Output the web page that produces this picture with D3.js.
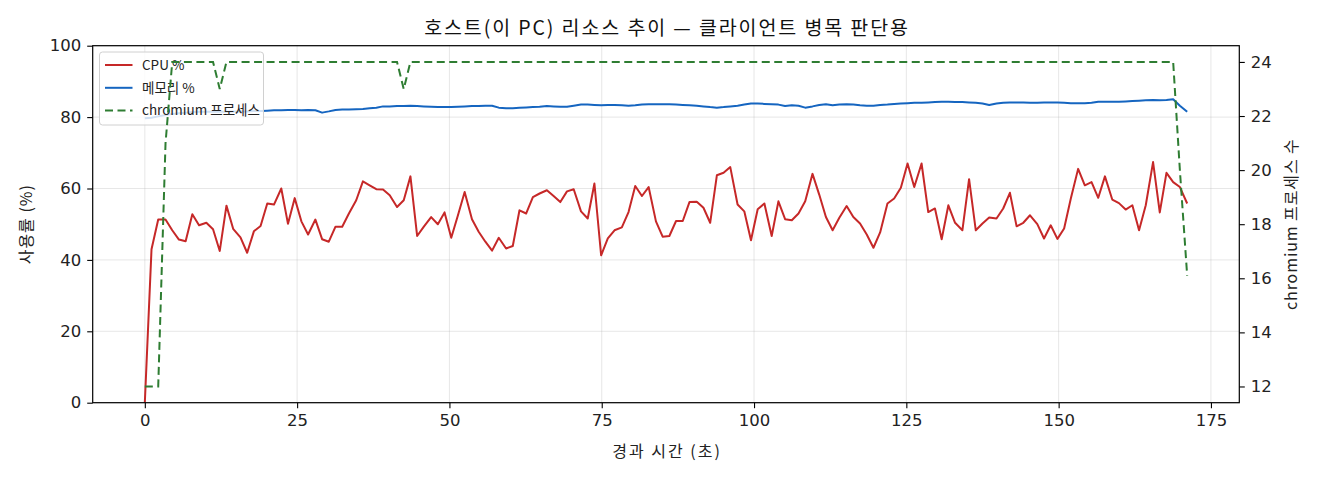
<!DOCTYPE html>
<html>
<head>
<meta charset="utf-8">
<script src="https://cdn.jsdelivr.net/npm/d3@7"></script>
<style>
  body { margin: 0; background: #fff; }
  svg { display: block; font-family: "Noto Sans CJK KR", "Noto Sans", sans-serif; }
</style>
</head>
<body>
<svg id="chart" width="1320" height="480"></svg>
<script>
// elapsed seconds for each sample
const elapsed = [
  0, 1.1, 2.2, 3.4, 4.5, 5.6, 6.7, 7.8, 8.9, 10.1, 11.2, 12.3, 13.4, 14.5, 15.7, 16.8, 17.9, 19.0, 20.1, 21.2,
  22.4, 23.5, 24.6, 25.7, 26.8, 28.0, 29.1, 30.2, 31.3, 32.4, 33.5, 34.7, 35.8, 36.9, 38.0, 39.1, 40.2, 41.4, 42.5, 43.6,
  44.7, 45.8, 47.0, 48.1, 49.2, 50.3, 51.4, 52.5, 53.7, 54.8, 55.9, 57.0, 58.1, 59.3, 60.4, 61.5, 62.6, 63.7, 64.8, 66.0,
  67.1, 68.2, 69.3, 70.4, 71.6, 72.7, 73.8, 74.9, 76.0, 77.1, 78.3, 79.4, 80.5, 81.6, 82.7, 83.9, 85.0, 86.1, 87.2, 88.3,
  89.4, 90.6, 91.7, 92.8, 93.9, 95.0, 96.1, 97.3, 98.4, 99.5, 100.6, 101.7, 102.9, 104.0, 105.1, 106.2, 107.3, 108.4, 109.6, 110.7,
  111.8, 112.9, 114.0, 115.2, 116.3, 117.4, 118.5, 119.6, 120.7, 121.9, 123.0, 124.1, 125.2, 126.3, 127.5, 128.6, 129.7, 130.8, 131.9, 133.0,
  134.2, 135.3, 136.4, 137.5, 138.6, 139.8, 140.9, 142.0, 143.1, 144.2, 145.3, 146.5, 147.6, 148.7, 149.8, 150.9, 152.0, 153.2, 154.3, 155.4,
  156.5, 157.6, 158.8, 159.9, 161.0, 162.1, 163.2, 164.3, 165.5, 166.6, 167.7, 168.8, 169.9, 171.1
];

const cpuPct = [
  0, 43, 51.3, 51.3, 48.3, 45.7, 45.2, 52.8, 49.7, 50.4, 48.6, 42.5, 55.2, 48.7, 46.3, 42, 48, 49.5, 55.8, 55.5,
  60, 50.1, 57.3, 50.8, 47.1, 51.3, 45.8, 45.1, 49.3, 49.3, 53, 56.7, 62, 60.9, 59.8, 59.7, 58.1, 54.8, 56.7, 63.4,
  46.7, 49.3, 52, 50, 53.3, 46.2, 52.5, 59, 51.4, 47.9, 45.1, 42.6, 46.2, 43.2, 43.9, 53.9, 53, 57.6, 58.6, 59.5,
  57.9, 56.2, 59.2, 59.8, 53.6, 51.6, 61.4, 41.3, 46, 48.3, 49.1, 53.4, 60.7, 57.9, 60.4, 50.8, 46.5, 46.7, 50.9, 50.9,
  56.2, 56.3, 54.6, 50.4, 63.7, 64.4, 66, 55.5, 53.6, 45.5, 54.2, 55.8, 46.7, 56.4, 51.4, 51.1, 53, 56.4, 64.1, 58.3,
  52, 48.3, 51.8, 55.1, 52, 50.2, 47.1, 43.4, 47.7, 55.8, 57.2, 60.2, 67, 60.4, 67, 53.4, 54.4, 45.8, 55.3, 50.4,
  48.3, 62.6, 48.3, 50.2, 51.9, 51.6, 54.4, 58.8, 49.4, 50.4, 52.5, 50, 46, 49.7, 45.9, 48.8, 57.2, 65.5, 60.9, 61.8,
  57.4, 63.4, 56.9, 55.9, 54.1, 55.3, 48.3, 55.3, 67.4, 53.3, 64.4, 61.8, 60.4, 55.8
];

const memPct = [
  79.7, 79.8, 80.2, 80.6, 80.9, 81.1, 81.25, 81.4, 81.5, 81.5, 81.5, 81.5, 81.5, 81.6, 81.6, 81.6, 81.7, 81.7, 81.8, 81.9,
  81.9, 82.0, 82.0, 81.9, 82.0, 81.9, 81.25, 81.6, 82.0, 82.1, 82.1, 82.2, 82.3, 82.5, 82.6, 83.0, 83.0, 83.1, 83.1, 83.2,
  83.1, 83.0, 82.9, 82.8, 82.8, 82.8, 82.9, 83.0, 83.1, 83.1, 83.2, 83.2, 82.65, 82.5, 82.5, 82.6, 82.7, 82.8, 82.9, 83.1,
  83.0, 82.9, 82.9, 83.2, 83.5, 83.5, 83.4, 83.3, 83.4, 83.4, 83.3, 83.2, 83.3, 83.5, 83.6, 83.6, 83.6, 83.6, 83.5, 83.4,
  83.3, 83.2, 83.0, 82.8, 82.65, 82.8, 83.0, 83.2, 83.5, 83.8, 83.8, 83.7, 83.6, 83.5, 83.1, 83.3, 83.2, 82.65, 83.0, 83.4,
  83.6, 83.3, 83.5, 83.6, 83.5, 83.3, 83.2, 83.2, 83.4, 83.5, 83.7, 83.8, 83.9, 84.0, 84.0, 84.1, 84.2, 84.3, 84.3, 84.2,
  84.2, 84.1, 84.0, 83.8, 83.4, 83.8, 84.0, 84.1, 84.1, 84.1, 84.0, 84.0, 84.1, 84.1, 84.1, 84.0, 83.9, 83.9, 83.9, 84.0,
  84.3, 84.3, 84.3, 84.3, 84.4, 84.5, 84.6, 84.7, 84.8, 84.7, 84.8, 85.0, 83.2, 81.5
];

const chromiumCount = [
  12, 12, 12, 21, 24, 24, 24, 24, 24, 24, 24, 23, 24, 24, 24, 24, 24, 24, 24, 24,
  24, 24, 24, 24, 24, 24, 24, 24, 24, 24, 24, 24, 24, 24, 24, 24, 24, 24, 23, 24,
  24, 24, 24, 24, 24, 24, 24, 24, 24, 24, 24, 24, 24, 24, 24, 24, 24, 24, 24, 24,
  24, 24, 24, 24, 24, 24, 24, 24, 24, 24, 24, 24, 24, 24, 24, 24, 24, 24, 24, 24,
  24, 24, 24, 24, 24, 24, 24, 24, 24, 24, 24, 24, 24, 24, 24, 24, 24, 24, 24, 24,
  24, 24, 24, 24, 24, 24, 24, 24, 24, 24, 24, 24, 24, 24, 24, 24, 24, 24, 24, 24,
  24, 24, 24, 24, 24, 24, 24, 24, 24, 24, 24, 24, 24, 24, 24, 24, 24, 24, 24, 24,
  24, 24, 24, 24, 24, 24, 24, 24, 24, 24, 24, 24, 20, 16.1
];

const xTicks = [0, 25, 50, 75, 100, 125, 150, 175];
const yTicks = [0, 20, 40, 60, 80, 100];
const y2Ticks = [12, 14, 16, 18, 20, 22, 24];

const series = [
  { label: "CPU %", color: "#c62828", dash: null },
  { label: "메모리 %", color: "#1565c0", dash: null },
  { label: "chromium 프로세스", color: "#2e7d32", dash: "8,4.5" }
];

const box = { left: 92.7, right: 1239.3, top: 45.7, bottom: 402.7 };
const svg = d3.select("#chart");

// matplotlib style 5% padding on the x range
const xPad = (d3.max(elapsed) - d3.min(elapsed)) * 0.05;
const x = d3.scaleLinear()
  .domain([d3.min(elapsed) - xPad, d3.max(elapsed) + xPad])
  .range([box.left, box.right]);
const y = d3.scaleLinear().domain([0, 100]).range([box.bottom, box.top]);
const cMin = d3.min(chromiumCount), cMax = d3.max(chromiumCount);
const cPad = (cMax - cMin) * 0.05;
const y2 = d3.scaleLinear().domain([cMin - cPad, cMax + cPad]).range([box.bottom, box.top]);

// grid
const grid = svg.append("g").attr("id", "grid");
grid.selectAll("line.gx").data(xTicks).join("line")
  .attr("x1", d => x(d)).attr("x2", d => x(d))
  .attr("y1", box.top).attr("y2", box.bottom)
  .attr("stroke", "#b0b0b0").attr("stroke-opacity", 0.3).attr("stroke-width", 1);
grid.selectAll("line.gy").data(yTicks).join("line")
  .attr("x1", box.left).attr("x2", box.right)
  .attr("y1", d => y(d)).attr("y2", d => y(d))
  .attr("stroke", "#b0b0b0").attr("stroke-opacity", 0.3).attr("stroke-width", 1);

const plot = svg.append("g").attr("id", "lines");
const cpuLine = d3.line().x((d, i) => x(elapsed[i])).y(d => y(d));
const memLine = d3.line().x((d, i) => x(elapsed[i])).y(d => y(d));
const chromLine = d3.line().x((d, i) => x(elapsed[i])).y(d => y2(d));

plot.append("path").datum(cpuPct).attr("d", cpuLine)
  .attr("fill", "none").attr("stroke", series[0].color).attr("stroke-width", 2)
  .attr("stroke-linejoin", "round");
plot.append("path").datum(memPct).attr("d", memLine)
  .attr("fill", "none").attr("stroke", series[1].color).attr("stroke-width", 2)
  .attr("stroke-linejoin", "round");

// legend (belongs to the left axes, so the twin axes line sits above it)
const legend = svg.append("g").attr("id", "legend").attr("transform", "translate(99.5,52)");
legend.append("rect")
  .attr("width", 164).attr("height", 73).attr("rx", 3)
  .attr("fill", "#fff").attr("fill-opacity", 0.8)
  .attr("stroke", "#d0d0d0").attr("stroke-width", 1);
series.forEach((s, i) => {
  const cy = 13 + i * 22.8;
  legend.append("line")
    .attr("x1", 5.5).attr("x2", 33).attr("y1", cy).attr("y2", cy)
    .attr("stroke", s.color).attr("stroke-width", 2)
    .attr("stroke-dasharray", s.dash);
  legend.append("text")
    .attr("x", 42.5).attr("y", cy).attr("dy", "0.35em")
    .attr("font-size", 13.5).attr("fill", "#222").text(s.label);
});

// twin axes layer: drawn after the legend
const twin = svg.append("g").attr("id", "twin");
twin.append("path").datum(chromiumCount).attr("d", chromLine)
  .attr("fill", "none").attr("stroke", series[2].color).attr("stroke-width", 2)
  .attr("stroke-dasharray", series[2].dash);

// axes
const fmt = d3.format("d");
const xAxis = svg.append("g").attr("transform", `translate(0,${box.bottom})`)
  .call(d3.axisBottom(x).tickValues(xTicks).tickFormat(fmt).tickSize(5.5).tickPadding(6));
const yAxis = svg.append("g").attr("transform", `translate(${box.left},0)`)
  .call(d3.axisLeft(y).tickValues(yTicks).tickFormat(fmt).tickSize(5.5).tickPadding(6));
const y2Axis = svg.append("g").attr("transform", `translate(${box.right},0)`)
  .call(d3.axisRight(y2).tickValues(y2Ticks).tickFormat(fmt).tickSize(5.5).tickPadding(6));

[xAxis, yAxis, y2Axis].forEach(g => {
  g.select(".domain").remove();
  g.selectAll(".tick line").attr("stroke", "#000").attr("stroke-width", 1.1);
  g.selectAll(".tick text").attr("font-size", 16.5).attr("fill", "#222")
    .attr("font-family", "\"DejaVu Sans\", sans-serif");
});

svg.append("rect")
  .attr("x", box.left).attr("y", box.top)
  .attr("width", box.right - box.left).attr("height", box.bottom - box.top)
  .attr("fill", "none").attr("stroke", "#000").attr("stroke-width", 1.2);

// labels
svg.append("text")
  .attr("x", (box.left + box.right) / 2 + 1).attr("y", 35)
  .attr("text-anchor", "middle").attr("font-size", 19.5).attr("fill", "#111")
  .attr("letter-spacing", 1.9)
  .text("호스트(이 PC) 리소스 추이 — 클라이언트 병목 판단용");
svg.append("text")
  .attr("x", (box.left + box.right) / 2 + 1).attr("y", 457)
  .attr("text-anchor", "middle").attr("font-size", 16).attr("fill", "#222")
  .attr("letter-spacing", 2)
  .text("경과 시간 (초)");
svg.append("text")
  .attr("transform", `translate(32,${(box.top + box.bottom) / 2}) rotate(-90)`)
  .attr("text-anchor", "middle").attr("font-size", 16).attr("fill", "#222")
  .attr("letter-spacing", 1)
  .text("사용률 (%)");
svg.append("text")
  .attr("transform", `translate(1297,${(box.top + box.bottom) / 2}) rotate(-90)`)
  .attr("text-anchor", "middle").attr("font-size", 16).attr("fill", "#222")
  .attr("letter-spacing", 0.9)
  .text("chromium 프로세스 수");
</script>
</body>
</html>
